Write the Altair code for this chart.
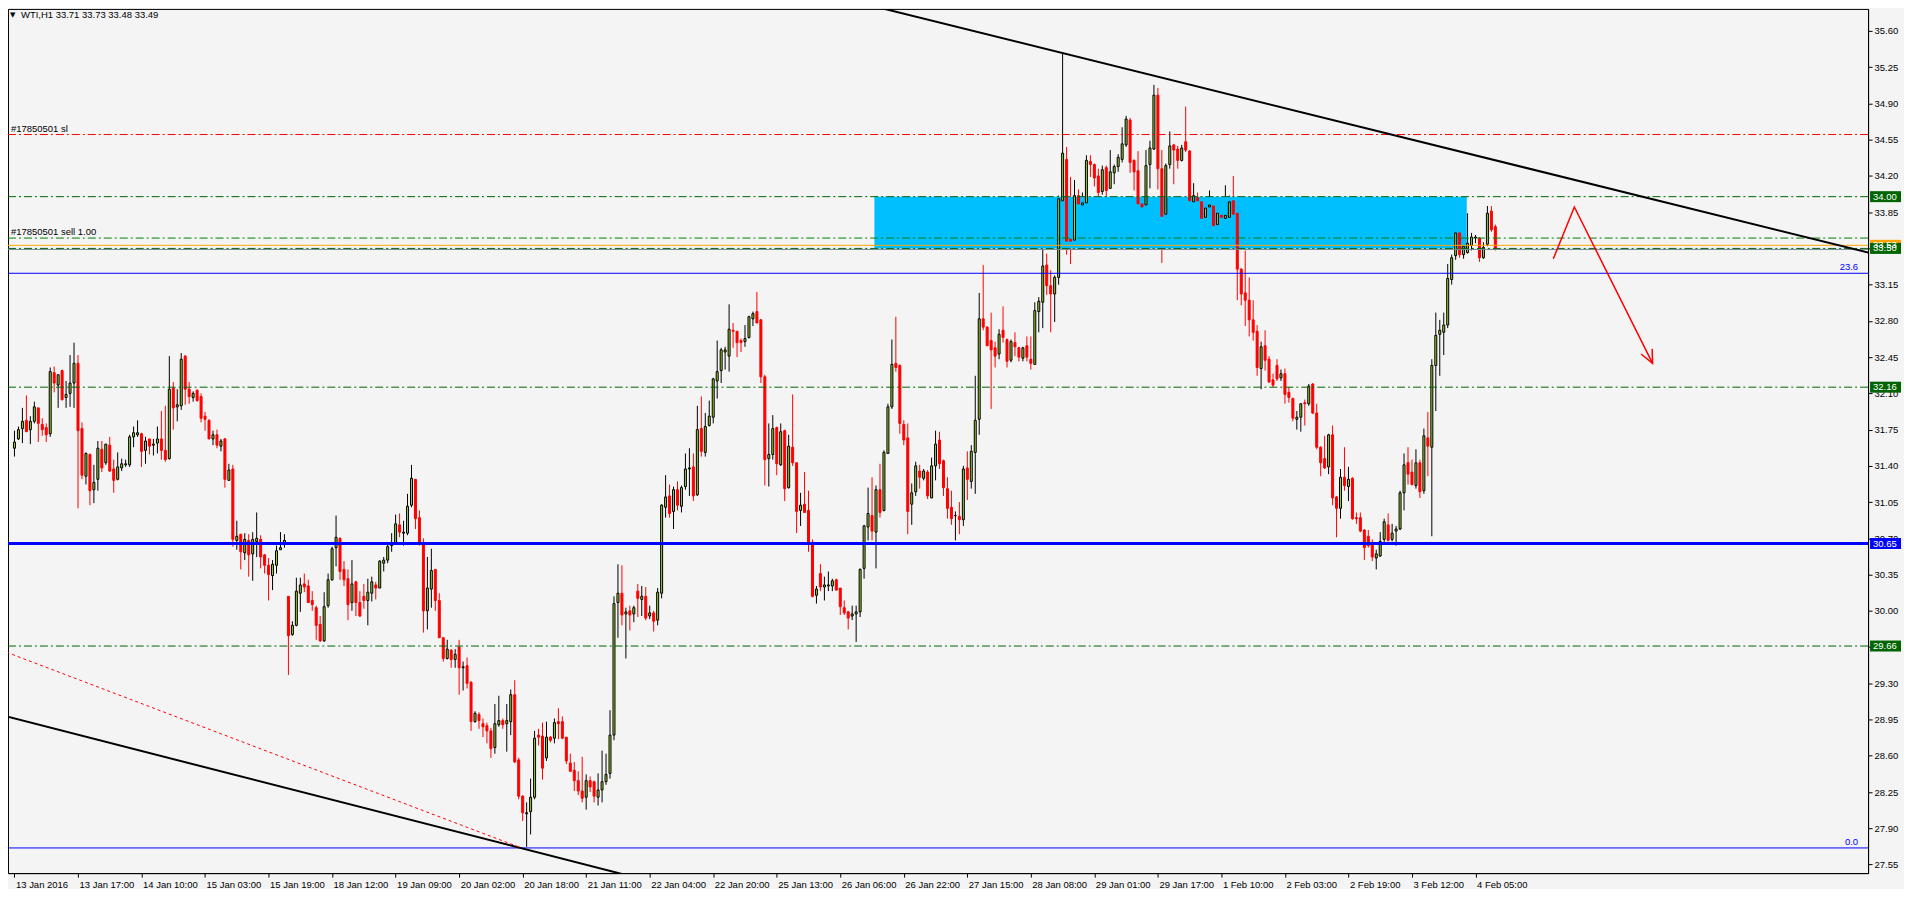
import altair as alt
import pandas as pd

# ---------------- OHLC data (WTI, H1), bars 0..373 ----------------
opens = [
    31.57,31.66,31.76,31.84,31.75,31.83,31.96,31.80,31.77,31.71,32.30,32.18,32.32,32.06,32.10,32.20,32.39,31.76,31.30,31.51,
    31.17,31.27,31.56,31.43,31.60,31.37,31.27,31.38,31.41,31.41,31.68,31.70,31.71,31.55,31.66,31.60,31.62,31.66,31.55,31.47,
    32.15,31.97,31.98,32.46,32.14,32.06,32.13,32.07,31.88,31.84,31.66,31.70,31.59,31.66,31.26,31.37,30.68,30.74,30.56,30.68,
    30.55,30.67,30.69,30.54,30.44,30.34,30.44,30.59,30.64,30.14,29.77,29.86,30.17,30.26,30.24,
    30.10,30.03,29.87,29.71,30.05,30.30,30.61,30.70,30.40,30.31,30.08,30.28,30.08,30.14,30.10,30.17,30.25,30.22,30.46,30.49,
    30.63,30.66,30.83,30.75,30.75,31.02,31.27,30.90,30.65,30.00,30.21,30.40,30.10,29.74,29.54,29.62,29.53,29.65,29.45,29.47,
    29.31,28.93,29.00,28.91,28.89,28.84,28.68,28.90,28.94,28.91,28.93,29.19,28.56,28.21,28.04,28.06,28.20,28.80,28.79,28.58,
    28.78,28.77,28.93,28.93,28.78,28.53,28.46,28.36,28.26,28.20,28.36,28.35,28.20,28.27,28.35,
    28.43,28.80,30.08,30.17,29.97,30.00,29.97,30.19,30.11,30.14,29.95,29.98,29.91,30.17,31.00,31.11,30.96,31.17,31.01,31.20,
    31.37,31.39,31.12,31.76,31.53,31.79,31.87,32.22,32.32,32.50,32.46,32.71,32.70,32.61,32.60,32.64,32.82,32.89,32.81,32.26,
    31.47,31.51,31.77,31.41,31.74,31.19,31.58,31.43,30.97,31.03,30.97,30.65,30.15,30.36,30.23,30.24,30.24,30.30,30.22,30.03,
    29.99,29.95,29.97,29.99,30.41,30.81,30.92,30.76,31.17,30.97,31.52,31.97,32.39,32.37,31.80,
    31.67,31.03,31.15,31.35,31.28,31.34,31.09,31.40,31.65,31.45,31.18,31.00,30.92,30.91,30.88,31.38,31.25,31.53,31.85,32.82,
    32.74,32.61,32.54,32.48,32.71,32.62,32.42,32.59,32.54,32.44,32.56,32.43,32.38,32.89,32.98,33.34,33.14,33.06,33.22,33.96,
    34.36,33.59,33.58,34.01,33.92,33.94,34.34,34.31,34.20,34.05,34.28,34.08,34.23,34.29,34.36,34.50,34.74,34.35,34.25,33.93,
    33.92,34.31,34.46,34.98,34.27,33.83,34.31,34.50,34.46,34.35,34.53,34.44,33.95,33.99,33.95,
    33.80,33.90,33.91,33.73,33.82,33.79,33.80,33.96,33.84,33.30,33.07,33.00,32.81,32.70,32.34,32.56,32.43,32.23,32.37,32.25,
    32.29,32.11,32.05,31.85,31.87,32.01,32.00,32.19,31.91,31.58,31.47,31.39,31.70,31.10,30.99,31.29,31.20,31.28,30.90,30.90,
    30.78,30.72,30.65,30.51,30.53,30.69,30.83,30.69,30.77,30.79,31.14,31.43,31.34,31.21,31.43,31.16,31.67,31.58,32.37,32.67,
    32.69,32.76,33.20,33.43,33.65,33.44,33.46,33.53,33.60,33.60,33.41,33.54,33.86,33.71,
]
highs = [
    31.74,31.78,31.96,32.08,31.88,32.02,31.96,31.86,31.81,32.35,32.36,32.28,32.33,32.22,32.47,32.59,32.47,31.82,31.53,31.52,
    31.41,31.64,31.64,31.61,31.68,31.46,31.53,31.47,31.46,31.70,31.78,31.84,31.72,31.68,31.66,31.66,31.78,31.93,31.98,32.46,
    32.21,32.14,32.49,32.47,32.21,32.12,32.14,32.10,31.92,31.85,31.74,31.75,31.66,31.67,31.42,31.41,30.87,30.74,30.75,30.74,
    30.76,30.95,30.73,30.55,30.51,30.49,30.63,30.76,30.74,30.14,29.90,30.32,30.32,30.36,30.30,
    30.19,30.05,29.95,30.18,30.36,30.62,30.92,30.71,30.48,30.40,30.49,30.29,30.19,30.26,30.31,30.33,30.28,30.49,30.52,30.66,
    30.75,30.93,30.94,30.87,31.13,31.41,31.27,30.97,30.70,30.52,30.60,30.40,30.17,29.74,29.72,29.63,29.63,29.72,29.51,29.55,
    29.32,29.03,29.02,28.96,28.92,28.87,29.10,29.18,28.96,29.10,29.24,29.33,28.58,28.22,28.15,28.38,28.84,28.86,28.92,28.93,
    28.79,28.96,29.06,28.98,28.78,28.62,28.54,28.45,28.59,28.42,28.40,28.36,28.43,28.65,28.62,
    29.04,30.14,30.45,30.44,30.03,30.05,30.05,30.26,30.24,30.23,30.05,30.00,30.22,31.03,31.31,31.22,31.20,31.25,31.21,31.52,
    31.57,31.52,31.98,32.07,31.91,32.03,32.25,32.61,32.54,32.55,32.96,32.78,32.70,32.63,32.76,32.85,32.89,33.08,32.82,32.28,
    31.81,31.89,31.78,31.81,31.75,31.70,32.09,31.43,31.14,31.34,31.16,30.69,30.24,30.45,30.33,30.38,30.31,30.31,30.22,30.10,
    30.00,30.05,30.05,30.41,30.83,31.19,31.29,31.21,31.42,31.55,32.00,32.62,32.84,32.38,31.84,
    31.81,31.23,31.44,31.41,31.37,31.36,31.48,31.74,31.73,31.46,31.29,31.16,30.96,31.05,31.40,31.54,31.60,32.27,33.07,33.34,
    32.75,32.88,32.60,32.72,32.94,32.63,32.62,32.69,32.55,32.55,32.65,32.65,32.98,33.03,33.49,33.45,33.29,33.24,34.01,35.39,
    34.48,34.19,34.16,34.07,34.04,34.40,34.40,34.32,34.27,34.30,34.30,34.45,34.31,34.41,34.67,34.78,34.76,34.36,34.44,34.00,
    34.45,34.54,35.08,35.05,34.45,34.32,34.63,34.51,34.49,34.50,34.87,34.45,34.13,34.04,33.96,
    33.95,34.06,33.96,33.94,33.94,34.11,34.01,34.20,33.84,33.31,33.48,33.22,33.00,32.76,32.60,32.71,32.46,32.29,32.43,32.33,
    32.34,32.16,32.06,31.93,32.00,32.04,32.19,32.20,32.00,31.59,31.69,31.71,31.79,31.11,31.37,31.58,31.39,31.29,30.95,30.95,
    30.79,30.78,30.69,30.59,30.76,30.89,30.94,30.84,30.82,31.16,31.52,31.58,31.46,31.56,31.46,31.76,31.92,32.43,32.88,32.81,
    32.88,33.35,33.44,33.68,33.71,33.60,33.84,33.65,33.63,33.61,33.56,33.91,33.91,33.73,
]
lows = [
    31.49,31.65,31.62,31.73,31.61,31.81,31.63,31.69,31.63,31.68,32.11,31.96,32.03,31.96,31.97,31.96,30.99,31.27,31.22,31.02,
    31.04,31.16,31.34,31.41,31.34,31.14,31.26,31.35,31.39,31.39,31.58,31.68,31.39,31.42,31.51,31.50,31.52,31.46,31.44,31.46,
    31.75,31.83,31.94,31.99,32.00,32.02,32.02,31.82,31.74,31.66,31.60,31.57,31.54,31.19,31.26,30.62,30.59,30.40,30.49,30.33,
    30.29,30.52,30.41,30.36,30.10,30.20,30.36,30.59,30.61,29.38,29.76,29.85,29.99,30.18,30.08,
    30.00,29.72,29.70,29.70,30.03,30.29,30.43,30.30,30.24,29.91,30.00,29.95,29.94,30.02,29.86,30.09,30.11,30.22,30.38,30.46,
    30.57,30.65,30.71,30.63,30.73,31.00,30.79,30.63,29.79,29.82,30.03,30.00,29.74,29.51,29.53,29.45,29.45,29.19,29.23,29.25,
    28.84,28.92,28.86,28.78,28.72,28.58,28.62,28.88,28.86,28.64,28.80,28.53,28.18,27.97,27.72,27.84,28.18,28.70,28.37,28.55,
    28.73,28.72,28.76,28.76,28.52,28.45,28.26,28.22,28.15,28.08,28.25,28.15,28.12,28.15,28.32,
    28.38,28.75,29.74,29.86,29.54,29.81,29.89,29.94,29.95,29.91,29.92,29.80,29.86,30.12,30.90,30.90,30.79,30.97,30.95,31.17,
    31.11,31.06,31.11,31.49,31.49,31.78,31.81,32.05,32.20,32.33,32.31,32.54,32.45,32.50,32.55,32.63,32.75,32.78,32.20,31.21,
    31.20,31.46,31.31,31.40,31.06,31.18,31.40,30.75,30.82,30.95,30.57,30.13,30.07,30.19,30.10,30.19,30.19,30.20,29.96,29.96,
    29.82,29.91,29.70,29.94,30.31,30.68,30.68,30.41,30.90,30.96,31.52,31.95,32.31,31.71,31.60,
    30.74,30.83,31.11,31.18,31.26,31.08,31.09,31.26,31.37,31.11,30.89,30.83,30.68,30.74,30.82,31.07,31.18,31.13,31.70,32.71,
    32.56,31.95,32.35,32.43,32.59,32.35,32.40,32.46,32.41,32.41,32.41,32.33,32.38,32.69,32.73,33.05,32.69,32.79,33.15,33.92,
    33.44,33.35,33.58,33.73,33.58,33.92,34.19,34.10,33.97,34.02,33.95,34.08,34.12,34.24,34.33,34.48,34.23,34.06,33.74,33.85,
    33.91,34.08,34.45,34.07,33.36,33.67,34.27,34.12,34.27,34.34,34.43,33.94,33.87,33.71,33.67,
    33.75,33.83,33.59,33.61,33.49,33.68,33.76,33.79,33.00,32.95,32.75,32.65,32.61,32.27,32.14,32.32,32.20,32.16,32.22,32.22,
    32.00,32.01,31.83,31.75,31.73,31.79,31.98,31.90,31.56,31.30,31.37,31.32,31.02,30.71,30.89,31.16,31.06,30.88,30.84,30.76,
    30.49,30.61,30.48,30.40,30.52,30.64,30.67,30.67,30.63,30.78,30.97,31.22,31.21,31.18,31.09,31.13,31.30,30.72,31.93,32.27,
    32.47,32.73,33.15,33.39,33.41,33.40,33.45,33.48,33.55,33.37,33.40,33.52,33.66,33.48,
]
closes = [
    31.63,31.75,31.83,31.73,31.83,31.97,31.81,31.75,31.70,32.31,32.20,32.28,32.04,32.09,32.20,32.39,31.74,31.31,31.52,31.16,
    31.24,31.57,31.38,31.61,31.35,31.26,31.39,31.42,31.42,31.68,31.72,31.72,31.54,31.64,31.59,31.61,31.66,31.55,31.46,32.14,
    31.96,31.99,32.43,32.14,32.07,32.10,32.03,31.86,31.85,31.66,31.70,31.60,31.64,31.27,31.36,30.69,30.72,30.57,30.69,30.54,
    30.69,30.70,30.52,30.44,30.35,30.45,30.58,30.61,30.68,29.76,29.86,30.19,30.25,30.23,30.08,
    30.06,29.86,29.71,30.04,30.30,30.60,30.71,30.38,30.30,30.06,30.26,30.08,29.95,30.10,30.18,30.28,30.22,30.48,30.49,30.62,
    30.65,30.84,30.76,30.76,31.01,31.28,30.89,30.65,30.00,30.22,30.39,30.10,29.74,29.54,29.63,29.53,29.58,29.45,29.46,29.30,
    28.93,29.01,28.94,28.88,28.84,28.67,28.91,28.94,28.90,28.94,29.19,28.54,28.21,28.05,28.05,28.20,28.77,28.78,28.48,28.78,
    28.75,28.92,28.91,28.77,28.55,28.45,28.36,28.26,28.19,28.36,28.30,28.21,28.27,28.35,28.42,
    28.80,30.07,30.17,29.96,29.99,29.96,30.03,30.12,30.14,29.93,29.98,29.90,30.18,31.02,31.10,30.94,31.17,31.02,31.19,31.37,
    31.38,31.11,31.75,31.54,31.78,31.88,32.24,32.31,32.52,32.52,32.72,32.70,32.59,32.59,32.63,32.84,32.87,32.78,32.26,31.46,
    31.51,31.76,31.42,31.73,31.18,31.59,31.43,30.96,31.02,30.95,30.65,30.14,30.21,30.23,30.25,30.25,30.29,30.20,30.04,29.98,
    29.93,29.97,29.99,30.40,30.82,30.94,30.77,31.17,30.95,31.53,31.97,32.38,32.35,31.81,31.65,
    30.96,31.14,31.40,31.29,31.35,31.11,31.40,31.61,31.42,31.19,30.99,30.89,30.92,30.88,31.37,31.27,31.54,31.84,32.82,32.74,
    32.56,32.52,32.46,32.67,32.64,32.41,32.60,32.55,32.45,32.54,32.45,32.39,32.90,32.99,33.33,33.14,33.06,33.22,33.98,34.42,
    33.57,33.57,34.01,33.93,33.94,34.35,34.31,34.18,34.04,34.26,34.06,34.24,34.29,34.38,34.51,34.75,34.33,34.24,33.93,33.90,
    34.30,34.47,34.98,34.27,33.81,34.30,34.49,34.45,34.35,34.47,34.45,33.96,34.01,33.96,33.79,
    33.89,33.92,33.72,33.84,33.80,33.82,33.95,33.83,33.30,33.06,33.00,32.81,32.69,32.35,32.55,32.42,32.21,32.18,32.24,32.29,
    32.09,32.06,31.86,31.87,32.00,32.00,32.17,31.91,31.58,31.43,31.38,31.70,31.09,30.99,31.29,31.21,31.27,30.89,30.89,30.77,
    30.61,30.63,30.52,30.55,30.67,30.86,30.68,30.75,30.79,31.14,31.41,31.32,31.22,31.43,31.15,31.69,31.59,32.37,32.66,32.71,
    32.76,33.21,33.41,33.65,33.44,33.52,33.55,33.61,33.61,33.41,33.51,33.84,33.68,33.49,
]

# x axis: tick label every 16 bars
x_tick_bars = [0, 16, 32, 48, 64, 80, 96, 112, 128, 144, 160, 176, 192, 208, 224, 240,
               256, 272, 288, 304, 320, 336, 352, 368]
x_tick_labels = ["13 Jan 2016", "13 Jan 17:00", "14 Jan 10:00", "15 Jan 03:00", "15 Jan 19:00",
                 "18 Jan 12:00", "19 Jan 09:00", "20 Jan 02:00", "20 Jan 18:00", "21 Jan 11:00",
                 "22 Jan 04:00", "22 Jan 20:00", "25 Jan 13:00", "26 Jan 06:00", "26 Jan 22:00",
                 "27 Jan 15:00", "28 Jan 08:00", "29 Jan 01:00", "29 Jan 17:00", "1 Feb 10:00",
                 "2 Feb 03:00", "2 Feb 19:00", "3 Feb 12:00", "4 Feb 05:00"]
y_ticks = [27.55, 27.90, 28.25, 28.60, 28.95, 29.30, 29.65, 30.00, 30.35, 30.70, 31.05, 31.40,
           31.75, 32.10, 32.45, 32.80, 33.15, 33.50, 33.85, 34.20, 34.55, 34.90, 35.25, 35.60]

# horizontal levels
level_prices = [34.00, 33.50, 32.16, 29.66]          # dark green dash-dot
sl_price = 34.60                                      # order stop loss
order_price = 33.60                                   # sell order
orange_price = 33.53
bid_price = 33.49
fib_prices = [33.26, 27.71]
fib_labels = ["23.6", "0.0"]
support_price = 30.65

# supply zone rectangle (bars, prices)
zone_bars = [216.6, 365.8]
zone_prices = [33.50, 34.00]

# trend lines (bar index, price)
top_line_bars = [210.0, 470.0]
top_line_prices = [35.90, 33.43]
bottom_line_bars = [-2.0, 160.0]
bottom_line_prices = [28.98, 27.39]
dotted_line_bars = [-2.0, 127.0]
dotted_line_prices = [29.60, 27.72]
arrow_bars = [387.6, 392.9, 412.6]
arrow_prices = [33.40, 33.90, 32.39]
arrow_head_bars = [409.7, 412.6, 412.5]
arrow_head_prices = [32.48, 32.39, 32.53]

tag_prices = [34.00, 33.53, 33.50, 32.16, 30.65, 29.66]
tag_texts = ["34.00", "33.53", "33.50", "32.16", "30.65", "29.66"]
tag_colors = ["#006400", "#FFA500", "#006400", "#006400", "#0000FF", "#006400"]

n = len(opens)
assert len(highs) == n and len(lows) == n and len(closes) == n, (len(opens), len(highs), len(lows), len(closes))

FONT = "Liberation Sans"
W, H = 1864, 866
xs = alt.Scale(domain=[-0.375, 465.625], nice=False, zero=False)
ys = alt.Scale(domain=[27.467, 35.813], nice=False, zero=False)

df = pd.DataFrame({"i": list(range(n)), "o": opens, "h": highs, "l": lows, "c": closes})
is_bull = df["c"] >= df["o"]
df["wc"] = ["#000000" if b else "#FF0000" for b in is_bull]
df["fc"] = ["#9ACD32" if b else "#FF0000" for b in is_bull]

label_expr = "[" + ",".join("'%s'" % s for s in x_tick_labels) + "][round(datum.value / 16)]"

x_axis = alt.Axis(values=x_tick_bars, labelExpr=label_expr, orient="bottom", title=None, grid=False,
                  labelAlign="left", labelPadding=2, labelOffset=1, tickSize=4, labelOverlap=False,
                  labelFlush=False, labelBound=False)
y_axis = alt.Axis(values=y_ticks, format=".2f", orient="right", title=None, grid=False,
                  labelAlign="left", labelPadding=2, tickSize=4, labelOverlap=False, labelFlush=False)


def X(field):
    return alt.X(field, scale=xs, axis=x_axis)


def Y(field):
    return alt.Y(field, scale=ys, axis=y_axis)


zone = alt.Chart(pd.DataFrame({"x1": [zone_bars[0]], "x2": [zone_bars[1]],
                               "y1": [zone_prices[0]], "y2": [zone_prices[1]]})).mark_rect(
    color="#00BFFF").encode(x=X("x1:Q"), x2="x2:Q", y=Y("y1:Q"), y2="y2:Q")

wicks = alt.Chart(df).mark_rule(strokeWidth=1).encode(
    x=X("i:Q"), y=Y("l:Q"), y2="h:Q",
    color=alt.Color("wc:N", scale=None))

bodies = alt.Chart(df).mark_bar(size=2, strokeWidth=1).encode(
    x=X("i:Q"), y=Y("o:Q"), y2="c:Q",
    fill=alt.Fill("fc:N", scale=None),
    stroke=alt.Stroke("wc:N", scale=None))


def hline(price, color, width=1.0, dash=None):
    kw = dict(color=color, strokeWidth=width)
    if dash:
        kw["strokeDash"] = dash
    return alt.Chart(pd.DataFrame({"p": [price]})).mark_rule(**kw).encode(y=Y("p:Q"))


def seg(bx, py, color, width, dash=None):
    kw = dict(color=color, strokeWidth=width, clip=True)
    if dash:
        kw["strokeDash"] = dash
    d = pd.DataFrame({"x": bx, "y": py, "k": list(range(len(bx)))})
    return alt.Chart(d).mark_line(**kw).encode(x=X("x:Q"), y=Y("y:Q"), order="k:Q")


DD = [8, 3, 2, 3]
lines = [hline(p, "#006400", 1, DD) for p in level_prices]
lines += [
    hline(sl_price, "#FF0000", 1, DD),
    hline(order_price, "#008000", 1, DD),
    hline(orange_price, "#FFA500", 1),
    hline(bid_price, "#778899", 1),
    hline(fib_prices[0], "#0000FF", 1),
    hline(fib_prices[1], "#0000FF", 1),
    hline(support_price, "#0000FF", 3),
]

trend = [
    seg(top_line_bars, top_line_prices, "#000000", 2),
    seg(bottom_line_bars, bottom_line_prices, "#000000", 2),
    seg(dotted_line_bars, dotted_line_prices, "#FF0000", 1, [3, 3]),
    seg(arrow_bars, arrow_prices, "#FF0000", 1.5),
    seg(arrow_head_bars, arrow_head_prices, "#FF0000", 1.5),
]

order_txt = alt.Chart(pd.DataFrame({"p": [sl_price, order_price],
                                    "t": ["#17850501 sl", "#17850501 sell 1.00"]})).mark_text(
    align="left", baseline="bottom", dy=-1, font=FONT, fontSize=9.5, color="#000000").encode(
    x=alt.value(3), y=Y("p:Q"), text="t:N")

fib_txt = alt.Chart(pd.DataFrame({"p": fib_prices, "t": fib_labels})).mark_text(
    align="right", baseline="bottom", dy=-1, font=FONT, fontSize=9.5, color="#0000FF").encode(
    x=alt.value(W - 10), y=Y("p:Q"), text="t:N")

tags_df = pd.DataFrame({"p": tag_prices, "t": tag_texts, "bg": tag_colors})
tag_box = alt.Chart(tags_df).mark_rect(yOffset=-5.5, y2Offset=5.5).encode(
    x=alt.value(W + 2), x2=alt.value(W + 33),
    y=Y("p:Q"), y2="p:Q",
    fill=alt.Fill("bg:N", scale=None))
tag_txt = alt.Chart(tags_df).mark_text(align="left", baseline="middle", font=FONT, fontSize=9.5,
                                       color="#FFFFFF").encode(
    x=alt.value(W + 5), y=Y("p:Q"), text="t:N")

header = "WTI,H1  %.2f %.2f %.2f %.2f" % (opens[-1], highs[-1], lows[-1], closes[-1])
head_tri = alt.Chart(pd.DataFrame({"t": ["\u25BC"]})).mark_text(
    align="left", baseline="top", font="DejaVu Sans", fontSize=7, color="#000000").encode(
    x=alt.value(2), y=alt.value(2), text="t:N")
head_txt = alt.Chart(pd.DataFrame({"t": [header]})).mark_text(
    align="left", baseline="top", font=FONT, fontSize=9.5, color="#000000").encode(
    x=alt.value(13), y=alt.value(1), text="t:N")

chart = alt.layer(
    wicks, zone, bodies, *lines, *trend, order_txt, fib_txt, tag_box, tag_txt, head_tri, head_txt
).properties(
    width=W, height=H,
    autosize=alt.AutoSizeParams(type="none"),
    padding={"left": 0, "top": 0, "right": 36, "bottom": 15},
    background="#F4F4F4",
).configure_view(
    stroke="#000000", strokeWidth=1, fill="#F4F4F4"
).configure_axis(
    labelFont=FONT, labelFontSize=9.5, labelColor="#000000", tickColor="#000000",
    domainColor="#000000", domainWidth=1, tickWidth=1
)

chart.save("out.html", embed_options={"renderer": "svg", "actions": False})
